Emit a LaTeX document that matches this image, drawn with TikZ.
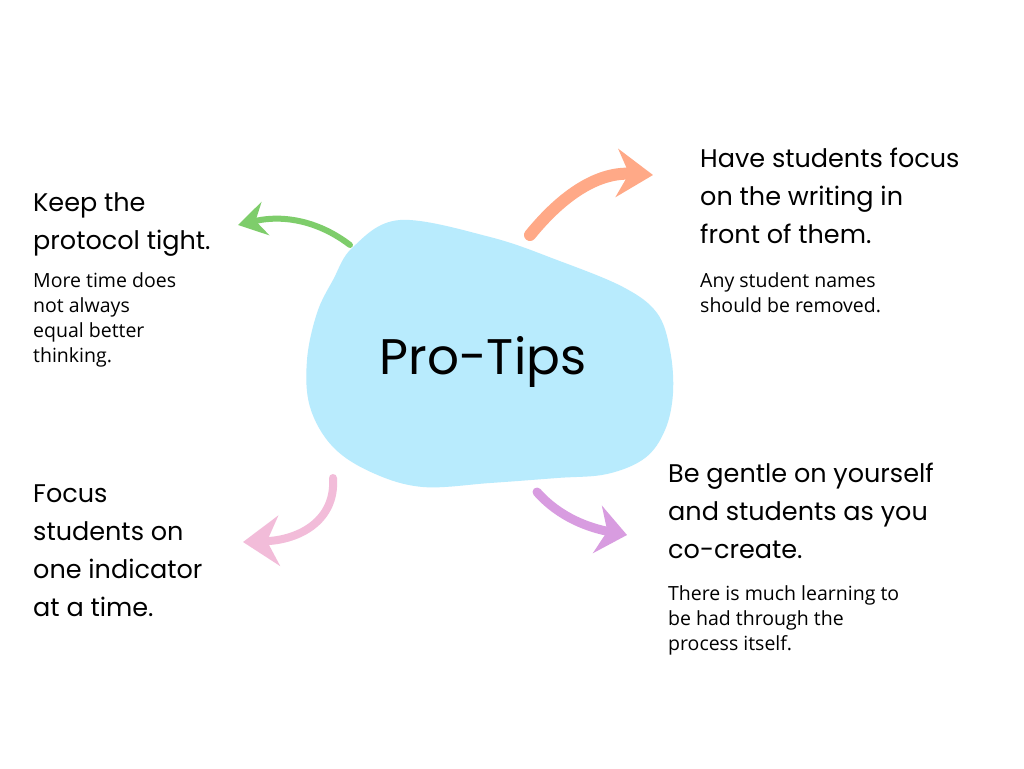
\documentclass[tikz,border=0pt]{standalone}
\usepackage{fontspec}
\setmainfont{Open Sans}
\newfontfamily\handfont{Poppins}
\usetikzlibrary{arrows.meta}
\definecolor{blobblue}{HTML}{B8EBFD}
\definecolor{tipgreen}{HTML}{7ECD6B}
\definecolor{tiporange}{HTML}{FFA987}
\definecolor{tippink}{HTML}{F2BCD9}
\definecolor{tippurple}{HTML}{D89CE0}
\begin{document}
\begin{tikzpicture}[x=1pt, y=-1pt,
    head/.style={anchor=base west, align=left, inner sep=0pt, font=\handfont\fontsize{25.5}{38}\selectfont},
    note/.style={anchor=base west, align=left, inner sep=0pt, font=\fontsize{19.5}{25}\selectfont},
    brush/.style={line cap=round, draw=#1}]
  \useasboundingbox[fill=white] (0,0) rectangle (1024,768);
  % the blob
  \fill[blobblue] plot[smooth cycle, tension=0.6] coordinates {
      (353,247) (400,220) (490,237) (557,260) (623,287) (657,313) (670,350)
      (673,393) (665,430) (645,458) (607,474) (557,478) (490,483) (423,487)
      (373,473) (333,447) (310,407) (307,360) (317,313) (333,280)};
  \node[inner sep=0pt, font=\handfont\fontsize{50}{50}\selectfont] (P) at (483,362) {Pro-Tips};

  % tips (placed at the baseline of their last line)
  \node[head] (K) at (33,249) {Keep the\\protocol tight.};
  \node[note] (k) at (33,362) {More time does\\not always\\equal better\\thinking.};
  \node[head] (H) at (700,243) {Have students focus\\on the writing in\\front of them.};
  \node[note] (h) at (700,312) {Any student names\\should be removed.};
  \node[head] (F) at (33,616) {Focus\\students on\\one indicator\\at a time.};
  \node[head] (B) at (668,558) {Be gentle on yourself\\and students as you\\co-create.};
  \node[note] (b) at (668,650) {There is much learning to\\be had through the\\process itself.};

  % arrows
  \coordinate (gt) at (350,245); \coordinate (gh) at (238,225);
  \coordinate (ot) at (530,235); \coordinate (oh) at (653,175);
  \coordinate (pt) at (333,478); \coordinate (ph) at (243,542);
  \coordinate (ut) at (537,492); \coordinate (uh) at (627,535);
  \draw[brush=tipgreen, line width=6pt, -{Stealth[length=28pt, width=34pt, inset=10pt]}]
    (gt) .. controls (320,222) and (285,214) .. (gh);
  \draw[brush=tiporange, line width=12pt, -{Stealth[length=36pt, width=48pt, inset=12pt]}]
    (ot) .. controls (565,192) and (600,172) .. (oh);
  \draw[brush=tippink, line width=8pt, -{Stealth[length=36pt, width=50pt, inset=12pt]}]
    (pt) .. controls (336,520) and (300,540) .. (ph);
  \draw[brush=tippurple, line width=9pt, -{Stealth[length=30pt, width=48pt, inset=10pt]}]
    (ut) .. controls (560,518) and (590,528) .. (uh);
\end{tikzpicture}
\end{document}
